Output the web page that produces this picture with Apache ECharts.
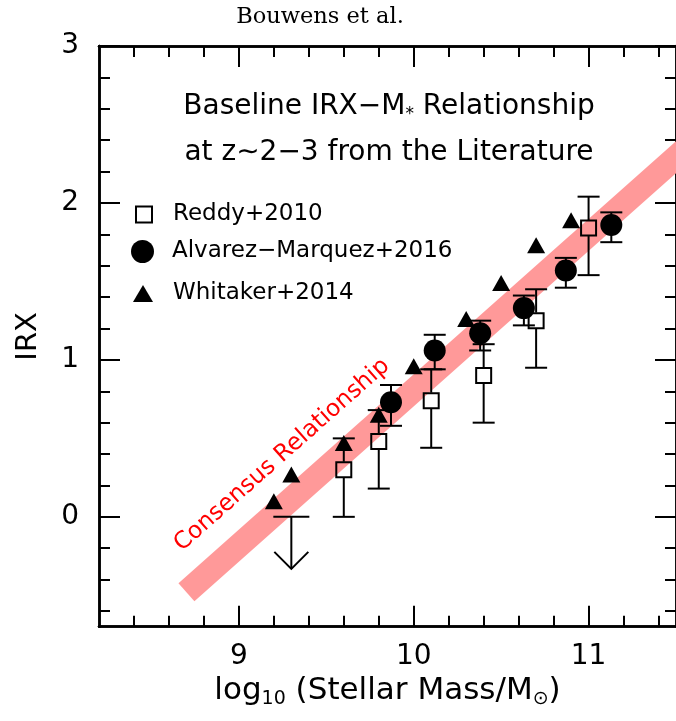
<!DOCTYPE html>
<html>
<head>
<meta charset="utf-8">
<title>IRX - stellar mass</title>
<script src="https://cdn.jsdelivr.net/npm/echarts@6/dist/echarts.min.js"></script>
<style>
  html, body { margin: 0; padding: 0; background: #fff; }
  #chart { width: 676px; height: 721px; }
</style>
</head>
<body>
<div id="chart"></div>
<script>
// Reddy+2010 (open squares), error bars read as low / high ends
var reddyX = [9.6, 9.8, 10.1, 10.4, 10.7, 11.0];
var reddyY = [0.30, 0.48, 0.74, 0.90, 1.25, 1.84];
var reddyLo = [0.00, 0.18, 0.44, 0.60, 0.95, 1.54];
var reddyHi = [0.50, 0.68, 0.94, 1.10, 1.45, 2.04];
// Reddy+2010 upper limit
var limitX = [9.3];
var limitY = [0.0];

// Alvarez-Marquez+2016 (filled circles)
var alvarezX = [9.87, 10.12, 10.38, 10.63, 10.87, 11.13];
var alvarezY = [0.73, 1.06, 1.17, 1.33, 1.57, 1.86];
var alvarezLo = [0.58, 0.94, 1.06, 1.22, 1.46, 1.75];
var alvarezHi = [0.84, 1.16, 1.25, 1.41, 1.65, 1.94];

// Whitaker+2014 (filled triangles)
var whitakerX = [9.2, 9.3, 9.6, 9.8, 10.0, 10.3, 10.5, 10.7, 10.9];
var whitakerY = [0.10, 0.27, 0.47, 0.65, 0.96, 1.26, 1.49, 1.73, 1.89];

// consensus relationship band end points
var consensusX = [8.70, 11.60];
var consensusY = [-0.48, 2.39];

// ticks
var xMajor = [9, 10, 11];
var xMinor = [8.4, 8.6, 8.8, 9.2, 9.4, 9.6, 9.8, 10.2, 10.4, 10.6, 10.8, 11.2, 11.4];
var yMajor = [0, 1, 2, 3];
var yMinor = [-0.6, -0.4, -0.2, 0.2, 0.4, 0.6, 0.8, 1.2, 1.4, 1.6, 1.8, 2.2, 2.4, 2.6, 2.8];

var SANS = '"DejaVu Sans", sans-serif';

function zip() {
  var cols = Array.prototype.slice.call(arguments);
  return cols[0].map(function (v, i) {
    return cols.map(function (c) { return c[i]; });
  });
}

function axisX(pos, ticks, len, labels) {
  return {
    type: 'value', min: 8.2, max: 11.5, position: pos,
    axisLine: { show: true, onZero: false, lineStyle: { color: '#000', width: 2.5 } },
    axisTick: { show: true, inside: true, length: len, customValues: ticks,
      lineStyle: { color: '#000', width: 2 } },
    axisLabel: labels ? { show: true, customValues: ticks, margin: 16, fontSize: 28,
      color: '#000', fontFamily: SANS } : { show: false },
    splitLine: { show: false }
  };
}

function axisY(pos, ticks, len, labels) {
  return {
    type: 'value', min: -0.7, max: 3, position: pos,
    axisLine: { show: true, onZero: false, lineStyle: { color: '#000', width: 2.5 } },
    axisTick: { show: true, inside: true, length: len, customValues: ticks,
      lineStyle: { color: '#000', width: 2 } },
    axisLabel: labels ? { show: true, customValues: ticks, margin: 20, fontSize: 28,
      color: '#000', fontFamily: SANS } : { show: false },
    splitLine: { show: false }
  };
}

// vertical error bar with caps; gap leaves the inside of open symbols empty
function errorBar(capHalf, gap) {
  return function (params, api) {
    var x = api.value(0);
    var mid = api.coord([x, api.value(1)]);
    var lo = api.coord([x, api.value(2)]);
    var hi = api.coord([x, api.value(3)]);
    var st = { stroke: '#000', lineWidth: 2 };
    var kids = [
      { type: 'line', shape: { x1: hi[0] - capHalf, y1: hi[1], x2: hi[0] + capHalf, y2: hi[1] }, style: st },
      { type: 'line', shape: { x1: lo[0] - capHalf, y1: lo[1], x2: lo[0] + capHalf, y2: lo[1] }, style: st }
    ];
    if (gap > 0) {
      kids.push({ type: 'line', shape: { x1: hi[0], y1: hi[1], x2: mid[0], y2: mid[1] - gap }, style: st });
      kids.push({ type: 'line', shape: { x1: mid[0], y1: mid[1] + gap, x2: lo[0], y2: lo[1] }, style: st });
    } else {
      kids.push({ type: 'line', shape: { x1: hi[0], y1: hi[1], x2: lo[0], y2: lo[1] }, style: st });
    }
    return { type: 'group', children: kids };
  };
}

function upperLimit(params, api) {
  var p = api.coord([api.value(0), api.value(1)]);
  var st = { stroke: '#000', lineWidth: 2 };
  var tip = p[1] + 52;
  return {
    type: 'group',
    children: [
      { type: 'line', shape: { x1: p[0] - 18, y1: p[1], x2: p[0] + 18, y2: p[1] }, style: st },
      { type: 'line', shape: { x1: p[0], y1: p[1], x2: p[0], y2: tip }, style: st },
      { type: 'polyline', shape: { points: [[p[0] - 17, tip - 17], [p[0], tip], [p[0] + 17, tip - 17]] },
        style: { stroke: '#000', lineWidth: 2, fill: null } }
    ]
  };
}

var chart = echarts.init(document.getElementById('chart'), null, { renderer: 'canvas' });

var legendText = { fontSize: 23, color: '#000', fontFamily: SANS };

var option = {
  backgroundColor: '#fff',
  animation: false,
  grid: { left: 99, top: 46, width: 581.5, height: 580.7, containLabel: false },
  xAxis: [
    Object.assign(axisX('bottom', xMajor, 21, true), {
      name: '{n|log}{s|10}{n| (Stellar Mass/M}{s|⊙}{n|)}',
      nameLocation: 'middle', nameGap: 44,
      nameTextStyle: {
        rich: {
          n: { fontSize: 31, lineHeight: 34, color: '#000', fontFamily: SANS },
          s: { fontSize: 19, lineHeight: 10, verticalAlign: 'bottom', color: '#000', fontFamily: SANS }
        }
      }
    }),
    axisX('bottom', xMinor, 11, false),
    axisX('top', xMajor, 21, false),
    axisX('top', xMinor, 11, false)
  ],
  yAxis: [
    Object.assign(axisY('left', yMajor, 21, true), {
      name: 'IRX', nameLocation: 'middle', nameRotate: 90, nameGap: 56,
      nameTextStyle: { fontSize: 29, color: '#000', fontFamily: SANS }
    }),
    axisY('left', yMinor, 11, false),
    axisY('right', yMajor, 21, false),
    axisY('right', yMinor, 11, false)
  ],
  legend: [
    { data: ['Reddy+2010'], left: 135, top: 203, padding: 0, itemWidth: 16, itemHeight: 16, icon: 'rect',
      selectedMode: false, textStyle: Object.assign({ padding: [0, 0, 0, 16] }, legendText) },
    { data: ['Alvarez−Marquez+2016'], left: 131, top: 240, padding: 0, itemWidth: 23, itemHeight: 23, icon: 'circle',
      selectedMode: false, textStyle: Object.assign({ padding: [0, 0, 0, 13] }, legendText) },
    { data: ['Whitaker+2014'], left: 133, top: 282, padding: 0, itemWidth: 20, itemHeight: 17, icon: 'triangle',
      selectedMode: false, textStyle: Object.assign({ padding: [0, 0, 0, 15] }, legendText) }
  ],
  graphic: [
    { type: 'text', x: 320, y: 17,
      style: { text: 'Bouwens et al.', align: 'center', verticalAlign: 'middle',
        font: '22.5px "DejaVu Serif", serif', fill: '#000' }, z: 10 },
    { type: 'text', x: 389, y: 107,
      style: {
        text: '{t|Baseline IRX−M}{a|*}{t| Relationship}', align: 'center', verticalAlign: 'middle',
        rich: {
          t: { fontSize: 28, lineHeight: 32, fill: '#000', fontFamily: SANS },
          a: { fontSize: 17, lineHeight: 6, verticalAlign: 'bottom', fill: '#000', fontFamily: SANS }
        }
      }, z: 10 },
    { type: 'text', x: 389, y: 153,
      style: { text: 'at z∼2−3 from the Literature', align: 'center', verticalAlign: 'middle',
        fontSize: 28, fill: '#000', fontFamily: SANS }, z: 10 },
    { type: 'text', x: 282, y: 455, rotation: 41.5 * Math.PI / 180,
      style: { text: 'Consensus Relationship', align: 'center', verticalAlign: 'middle',
        fontSize: 23.5, fill: '#ff0000', fontFamily: SANS }, z: 10 }
  ],
  series: [
    {
      name: 'consensus', type: 'line', data: zip(consensusX, consensusY),
      symbol: 'none', silent: true, clip: true, z: 1,
      lineStyle: { color: '#ff9999', width: 24, cap: 'butt' }
    },
    {
      name: 'reddyErr', type: 'custom', renderItem: errorBar(11, 8), silent: true, z: 3,
      data: zip(reddyX, reddyY, reddyLo, reddyHi)
    },
    {
      name: 'alvarezErr', type: 'custom', renderItem: errorBar(11, 0), silent: true, z: 3,
      data: zip(alvarezX, alvarezY, alvarezLo, alvarezHi)
    },
    {
      name: 'reddyLimit', type: 'custom', renderItem: upperLimit, silent: true, z: 3,
      data: zip(limitX, limitY)
    },
    {
      name: 'Reddy+2010', type: 'scatter', symbol: 'rect', symbolSize: 15, z: 4,
      itemStyle: { color: 'rgba(0,0,0,0)', borderColor: '#000', borderWidth: 2, opacity: 1 },
      data: zip(reddyX, reddyY)
    },
    {
      name: 'Alvarez−Marquez+2016', type: 'scatter', symbol: 'circle', symbolSize: 22, z: 4,
      itemStyle: { color: '#000', opacity: 1 },
      data: zip(alvarezX, alvarezY)
    },
    {
      name: 'Whitaker+2014', type: 'scatter', symbol: 'triangle', symbolSize: [18, 16], z: 4,
      itemStyle: { color: '#000', opacity: 1 },
      data: zip(whitakerX, whitakerY)
    }
  ]
};

chart.setOption(option);

window.addEventListener('resize', function () {
  chart.resize();
});
</script>
</body>
</html>
